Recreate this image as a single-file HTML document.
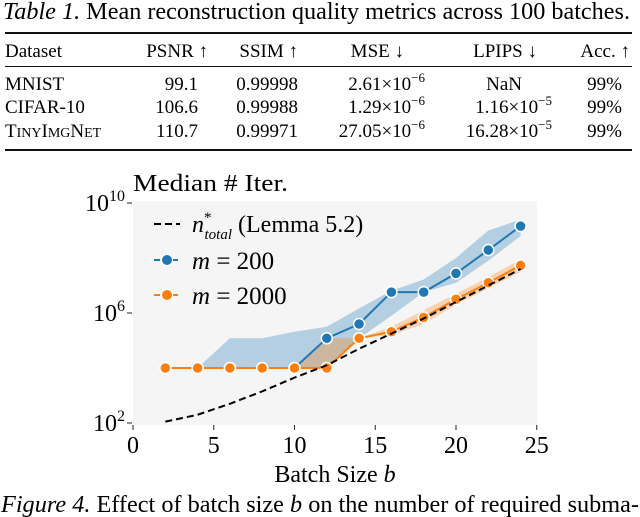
<!DOCTYPE html>
<html><head><meta charset="utf-8">
<style>
body{margin:0;width:640px;height:517px;background:#fff;overflow:hidden;font-family:"Liberation Serif",serif;color:#111;position:relative}
.rule{position:absolute;left:5px;width:627px;background:#111}
</style></head><body>
<div class="rule" style="top:32px;height:2px"></div>
<div class="rule" style="top:66px;height:1px"></div>
<div class="rule" style="top:149px;height:2px"></div>
<svg width="640" height="150" style="position:absolute;left:0;top:0" font-family="Liberation Serif, serif" font-size="19">
<text x="3" y="19" font-size="24" textLength="627" lengthAdjust="spacingAndGlyphs"><tspan font-style="italic">Table 1.</tspan> Mean reconstruction quality metrics across 100 batches.</text>
<g text-anchor="start"><text x="5" y="57">Dataset</text><text x="5" y="90">MNIST</text><text x="5" y="113">CIFAR-10</text><text x="5" y="137">T<tspan font-size="14">INY</tspan>I<tspan font-size="14">MG</tspan>N<tspan font-size="14">ET</tspan></text></g>
<g text-anchor="end">
<text x="208" y="57">PSNR ↑</text><text x="198" y="90">99.1</text><text x="198" y="113">106.6</text><text x="198" y="137">110.7</text>
<text x="298" y="57">SSIM ↑</text><text x="298" y="90">0.99998</text><text x="298" y="113">0.99988</text><text x="298" y="137">0.99971</text>
<text x="404" y="57">MSE ↓</text><text x="425" y="90">2.61×10<tspan font-size="13" dy="-8">−6</tspan></text><text x="425" y="113">1.29×10<tspan font-size="13" dy="-8">−6</tspan></text><text x="425" y="137">27.05×10<tspan font-size="13" dy="-8">−6</tspan></text>
<text x="537" y="57">LPIPS ↓</text><text x="522" y="90">NaN</text><text x="552" y="113">1.16×10<tspan font-size="13" dy="-8">−5</tspan></text><text x="552" y="137">16.28×10<tspan font-size="13" dy="-8">−5</tspan></text>
<text x="630" y="57">Acc. ↑</text><text x="622" y="90">99%</text><text x="622" y="113">99%</text><text x="622" y="137">99%</text>
</g></svg>

<svg id="chart" width="640" height="517" style="position:absolute;left:0;top:0" font-family="Liberation Serif, serif">
<text x="1" y="512" font-size="24" textLength="638" lengthAdjust="spacingAndGlyphs"><tspan font-style="italic">Figure 4.</tspan> Effect of batch size <tspan font-style="italic">b</tspan> on the number of required subma-</text>
</svg>

<script>
const batchSizes=[2,4,6,8,10,12,14,16,18,20,22,24];
const m200=[4.0,4.0,4.0,4.0,4.0,5.08,5.6,6.76,6.76,7.44,8.29,9.16];
const m200Lo=[4.0,4.0,4.0,4.0,4.0,4.0,5.08,5.9,6.76,7.1,7.9,8.8];
const m200Hi=[4.0,4.0,5.08,5.08,5.32,5.5,6.17,6.81,7.22,8.0,9.0,9.4];
const m2000=[4.0,4.0,4.0,4.0,4.0,4.0,5.08,5.32,5.84,6.5,7.1,7.73];
const m2000Lo=[4.0,4.0,4.0,4.0,4.0,4.0,5.08,5.2,5.6,6.3,6.9,7.5];
const m2000Hi=[4.0,4.0,4.0,4.0,4.0,5.08,5.08,5.5,6.1,6.7,7.3,7.95];
const bound=[2.05,2.3,2.7,3.15,3.65,4.1,4.7,5.25,5.8,6.4,7.0,7.6];
const xTicks=[0,5,10,15,20,25];
const yTicks=[2,6,10];
const NS='http://www.w3.org/2000/svg';
const svg=document.getElementById('chart');
const X=v=>133+v*16.15, Y=v=>423-(v-2)*27.5;
function el(t,a,p){const e=document.createElementNS(NS,t);for(const k in a)e.setAttribute(k,a[k]);(p||svg).appendChild(e);return e;}
let bg=el('rect',{x:133,y:201,width:404,height:224,fill:'#f5f5f5'});


function band(lo,hi,fill,name){let d='';batchSizes.forEach((b,i)=>d+=(i?'L':'M')+X(b)+','+Y(hi[i]));for(let i=batchSizes.length-1;i>=0;i--)d+='L'+X(batchSizes[i])+','+Y(lo[i]);const p=el('path',{d:d+'Z',fill:fill,'fill-opacity':0.3});

}
band(m200Lo,m200Hi,'#1f77b4','band-m200');
band(m2000Lo,m2000Hi,'#ff7f0e','band-m2000');
function line(vals,color,dash,name){const pts=batchSizes.map((b,i)=>X(b)+','+Y(vals[i])).join(' ');const l=el('polyline',{points:pts,fill:'none',stroke:color,'stroke-width':2,'stroke-dasharray':dash||''});

}
function dots(vals,color,name){batchSizes.forEach((b,i)=>{const c=el('circle',{cx:X(b),cy:Y(vals[i]),r:5.5,fill:color,stroke:'#fff','stroke-width':1.5});

});}
line(m200,'#1f77b4','','line-m200');
line(m2000,'#ff7f0e','','line-m2000');
dots(m200,'#1f77b4','point-m200');
dots(m2000,'#ff7f0e','point-m2000');
line(bound,'#000','7,4','line-bound');
xTicks.forEach(v=>{el('line',{x1:X(v),x2:X(v),y1:425,y2:430,stroke:'#222'});const t=el('text',{x:X(v),y:453,'text-anchor':'middle','font-size':24});t.textContent=v;

});
yTicks.forEach(v=>{el('line',{x1:127,x2:132,y1:Y(v),y2:Y(v),stroke:'#222'});const t=el('text',{x:125,y:Y(v)+8,'text-anchor':'end','font-size':24});t.innerHTML='10<tspan font-size="16" dy="-10">'+v+'</tspan>';

});
let yt=el('text',{x:133,y:191,'font-size':24,textLength:155,lengthAdjust:'spacingAndGlyphs'});yt.textContent='Median # Iter.';


let xt=el('text',{x:335,y:482,'text-anchor':'middle','font-size':24});xt.innerHTML='Batch Size <tspan font-style="italic">b</tspan>';


const leg=el('g',{});


el('line',{x1:154,x2:180,y1:224,y2:224,stroke:'#000','stroke-width':2,'stroke-dasharray':'7,4'},leg);
el('text',{x:192,y:232,'font-size':24},leg).innerHTML='<tspan font-style="italic">n</tspan><tspan font-size="15" dy="-10">*</tspan><tspan font-size="15" font-style="italic" dx="-7" dy="17">total</tspan><tspan dy="-7"> (Lemma 5.2)</tspan>';
el('line',{x1:154,x2:180,y1:260,y2:260,stroke:'#1f77b4','stroke-width':2,'stroke-dasharray':'6,3'},leg);
el('circle',{cx:167,cy:260,r:5.5,fill:'#1f77b4',stroke:'#fff'},leg);
el('text',{x:192,y:269,'font-size':25},leg).innerHTML='<tspan font-style="italic">m</tspan> = 200';
el('line',{x1:154,x2:180,y1:295,y2:295,stroke:'#ff7f0e','stroke-width':2,'stroke-dasharray':'6,3'},leg);
el('circle',{cx:167,cy:295,r:5.5,fill:'#ff7f0e',stroke:'#fff'},leg);
el('text',{x:192,y:304,'font-size':25},leg).innerHTML='<tspan font-style="italic">m</tspan> = 2000';
</script>
</body></html>
